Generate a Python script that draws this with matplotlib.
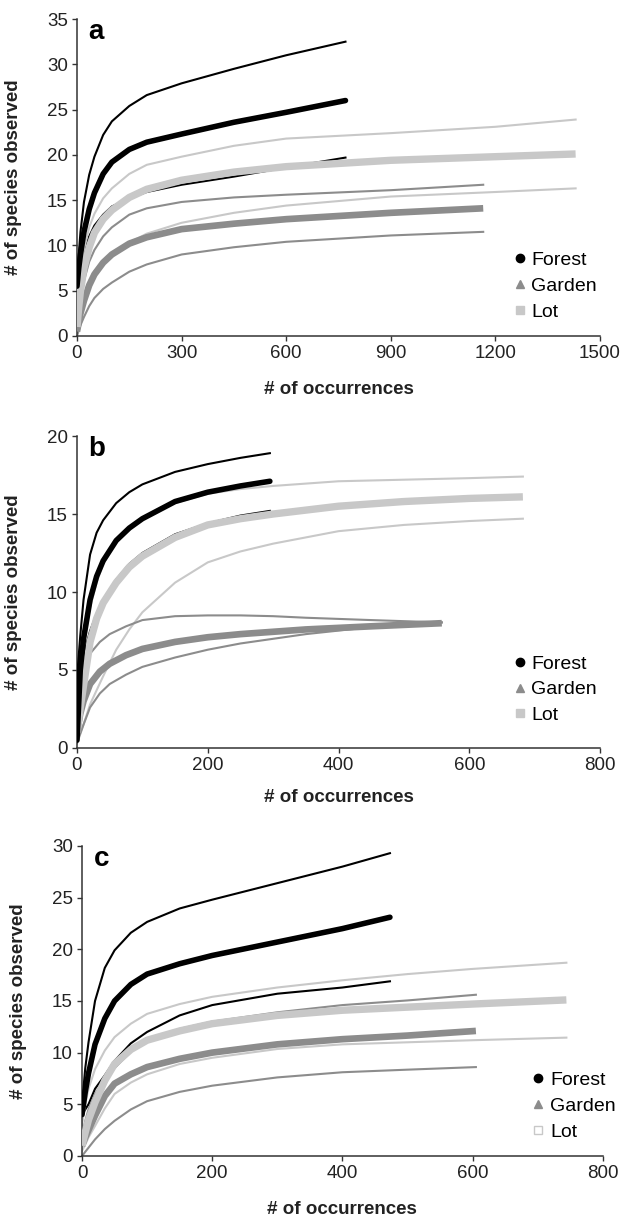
import matplotlib
matplotlib.use("Agg")
import matplotlib.pyplot as plt
from matplotlib.lines import Line2D

plt.rcParams['font.family'] = ['Liberation Sans', 'DejaVu Sans']

# ---------------- Panel a ----------------
a_forest_x = [0, 5, 10, 20, 35, 50, 75, 100, 150, 200, 300, 450, 600, 770]
a_forest_up = [5.5, 9, 11.5, 14.8, 17.8, 19.8, 22.2, 23.7, 25.4, 26.6, 27.9, 29.5, 31, 32.5]
a_forest_mean = [5.5, 7.5, 9, 11.5, 14, 15.8, 17.9, 19.2, 20.6, 21.4, 22.3, 23.6, 24.7, 26.0]
a_forest_low = [5, 6.3, 7.5, 9.2, 11, 12.2, 13.4, 14.3, 15.2, 15.9, 16.7, 17.6, 18.6, 19.7]

a_lot_x = [0, 5, 10, 20, 35, 50, 75, 100, 150, 200, 300, 450, 600, 900, 1200, 1430]
a_lot_up = [3, 5.2, 7, 9.6, 12, 13.5, 15.2, 16.3, 17.9, 18.9, 19.8, 21, 21.8, 22.4, 23.1, 23.9]
a_lot_mean = [1, 3.2, 5, 7.5, 9.8, 11.4, 12.9, 13.9, 15.3, 16.2, 17.2, 18.1, 18.7, 19.4, 19.8, 20.1]
a_lot_low = [0.5, 1.5, 2.5, 4.2, 6, 7.2, 8.3, 9, 10.3, 11.3, 12.5, 13.6, 14.4, 15.4, 15.9, 16.3]

a_garden_x = [0, 5, 10, 20, 35, 50, 75, 100, 150, 200, 300, 450, 600, 900, 1165]
a_garden_up = [1, 2.6, 4, 6.1, 8.2, 9.5, 11, 12, 13.4, 14.1, 14.8, 15.3, 15.6, 16.1, 16.7]
a_garden_mean = [0.5, 1.5, 2.5, 3.9, 5.6, 6.8, 8.1, 9, 10.2, 10.9, 11.8, 12.4, 12.9, 13.6, 14.1]
a_garden_low = [0, 0.6, 1.2, 2.1, 3.3, 4.2, 5.2, 5.9, 7.1, 7.9, 9, 9.8, 10.4, 11.1, 11.5]

# ---------------- Panel b ----------------
b_forest_x = [0, 5, 10, 20, 30, 40, 60, 80, 100, 150, 200, 250, 295]
b_forest_up = [4.5, 7.2, 9.5, 12.4, 13.8, 14.6, 15.7, 16.4, 16.9, 17.7, 18.2, 18.6, 18.9]
b_forest_mean = [0.5, 5, 7, 9.5, 11, 12, 13.3, 14.1, 14.7, 15.8, 16.4, 16.8, 17.1]
b_forest_low = [4, 5, 6, 7.5, 8.6, 9.5, 10.8, 11.8, 12.5, 13.7, 14.4, 14.9, 15.2]

b_lot_x = [0, 5, 10, 20, 30, 40, 60, 80, 100, 150, 200, 250, 300, 400, 500, 600, 682]
b_lot_up = [2, 4.5, 6.5, 9, 10.6, 11.8, 13.2, 14.1, 14.7, 15.7, 16.3, 16.6, 16.8, 17.1, 17.2, 17.3, 17.4]
b_lot_mean = [1, 2.6, 4, 6.8, 8.3, 9.3, 10.6, 11.6, 12.3, 13.5, 14.3, 14.7, 15.0, 15.5, 15.8, 16.0, 16.1]
b_lot_low = [0.5, 1, 1.5, 2.8, 3.7, 4.6, 6.3, 7.6, 8.7, 10.6, 11.9, 12.6, 13.1, 13.9, 14.3, 14.55, 14.7]

b_garden_x = [0, 5, 10, 20, 35, 50, 75, 100, 150, 200, 250, 300, 350, 450, 558]
b_garden_up = [1.5, 4.2, 5.3, 6.05, 6.8, 7.3, 7.8, 8.2, 8.45, 8.5, 8.5, 8.45, 8.35, 8.2, 8.05]
b_garden_mean = [1, 2.2, 3, 4.1, 4.9, 5.4, 5.95, 6.35, 6.8, 7.1, 7.3, 7.45, 7.6, 7.8, 8.0]
b_garden_low = [0.3, 0.9, 1.5, 2.6, 3.5, 4.1, 4.7, 5.2, 5.8, 6.3, 6.7, 7.0, 7.3, 7.75, 8.05]

# ---------------- Panel c ----------------
c_forest_x = [0, 5, 10, 20, 35, 50, 75, 100, 150, 200, 300, 400, 473]
c_forest_up = [5, 8.5, 11, 15, 18.2, 19.9, 21.6, 22.65, 23.95, 24.8, 26.4, 28.0, 29.3]
c_forest_mean = [4, 6.2, 8, 10.8, 13.3, 15.0, 16.6, 17.6, 18.6, 19.4, 20.7, 22.0, 23.1]
c_forest_low = [4, 4.5, 5, 6.5, 7.8, 9.2, 10.9, 12.0, 13.6, 14.6, 15.7, 16.3, 16.9]

c_lot_x = [0, 5, 10, 20, 35, 50, 75, 100, 150, 200, 300, 400, 500, 600, 744]
c_lot_up = [3, 5, 6.5, 8.4, 10.2, 11.5, 12.8, 13.75, 14.7, 15.4, 16.3, 17.0, 17.6, 18.1, 18.7]
c_lot_mean = [1, 2.3, 3.5, 5.2, 7.3, 8.9, 10.3, 11.2, 12.1, 12.8, 13.6, 14.1, 14.4, 14.7, 15.1]
c_lot_low = [0.5, 1.1, 1.8, 2.9, 4.6, 6.0, 7.1, 7.9, 8.9, 9.5, 10.35, 10.8, 11.0, 11.2, 11.45]

c_garden_x = [0, 5, 10, 20, 35, 50, 75, 100, 150, 200, 300, 400, 500, 605]
c_garden_up = [2, 3.4, 4.5, 6, 7.5, 8.5, 10.1, 11.3, 12.3, 13.0, 13.9, 14.6, 15.05, 15.6]
c_garden_mean = [1, 1.8, 2.5, 3.9, 5.8, 7.0, 7.9, 8.6, 9.4, 10.0, 10.8, 11.3, 11.65, 12.1]
c_garden_low = [0, 0.4, 0.8, 1.6, 2.6, 3.4, 4.5, 5.3, 6.2, 6.8, 7.6, 8.1, 8.35, 8.6]

habitats = ["Forest", "Garden", "Lot"]
panel_letters = ["a", "b", "c"]
a_xticks = [0, 300, 600, 900, 1200, 1500]
a_yticks = [0, 5, 10, 15, 20, 25, 30, 35]
b_xticks = [0, 200, 400, 600, 800]
b_yticks = [0, 5, 10, 15, 20]
c_xticks = [0, 200, 400, 600, 800]
c_yticks = [0, 5, 10, 15, 20, 25, 30]

FOREST = "#000000"
GARDEN = "#8c8c8c"
LOT = "#c8c8c8"
THIN = 1.5

fig = plt.figure(figsize=(6.26, 12.2), dpi=100)

panels = [
    dict(rect=[0.123, 0.7246, 0.8355, 0.2598], xlim=1500, ylim=35,
         xt=a_xticks, yt=a_yticks,
         forest=(a_forest_x, a_forest_up, a_forest_mean, a_forest_low),
         garden=(a_garden_x, a_garden_up, a_garden_mean, a_garden_low),
         lot=(a_lot_x, a_lot_up, a_lot_mean, a_lot_low),
         leg=(0.835, 0.266), xlab_y=-0.17, open_lot=False),
    dict(rect=[0.123, 0.3869, 0.8355, 0.2557], xlim=800, ylim=20,
         xt=b_xticks, yt=b_yticks,
         forest=(b_forest_x, b_forest_up, b_forest_mean, b_forest_low),
         garden=(b_garden_x, b_garden_up, b_garden_mean, b_garden_low),
         lot=(b_lot_x, b_lot_up, b_lot_mean, b_lot_low),
         leg=(0.835, 0.298), xlab_y=-0.16, open_lot=False),
    dict(rect=[0.131, 0.0525, 0.832, 0.2541], xlim=800, ylim=30,
         xt=c_xticks, yt=c_yticks,
         forest=(c_forest_x, c_forest_up, c_forest_mean, c_forest_low),
         garden=(c_garden_x, c_garden_up, c_garden_mean, c_garden_low),
         lot=(c_lot_x, c_lot_up, c_lot_mean, c_lot_low),
         leg=(0.865, 0.272), xlab_y=-0.172, open_lot=True),
]

kw = dict(solid_joinstyle='round')
for i, p in enumerate(panels):
    ax = fig.add_axes(p["rect"])
    fx, fup, fmean, flow = p["forest"]
    gx, gup, gmean, glow = p["garden"]
    lx, lup, lmean, llow = p["lot"]

    ax.plot(fx, flow, color=FOREST, lw=THIN, zorder=2, **kw)
    ax.plot(lx, llow, color=LOT, lw=THIN, zorder=2, **kw)
    ax.plot(gx, gup, color=GARDEN, lw=THIN, zorder=2, **kw)
    ax.plot(gx, glow, color=GARDEN, lw=THIN, zorder=2, **kw)
    ax.plot(lx, lup, color=LOT, lw=THIN, zorder=2, **kw)
    ax.plot(gx, gmean, color=GARDEN, lw=4.8, zorder=3, solid_capstyle='butt', **kw)
    ax.plot(lx, lmean, color=LOT, lw=5.3, zorder=3, solid_capstyle='butt', **kw)
    ax.plot(fx, fup, color=FOREST, lw=THIN, zorder=4, **kw)
    ax.plot(fx, fmean, color=FOREST, lw=4.0, zorder=4, solid_capstyle='round', **kw)

    ax.set_xlim(0, p["xlim"])
    ax.set_ylim(0, p["ylim"])
    ax.set_xticks(p["xt"])
    ax.set_yticks(p["yt"])
    for s in ["top", "right"]:
        ax.spines[s].set_visible(False)
    for s in ["left", "bottom"]:
        ax.spines[s].set_color("#333333")
        ax.spines[s].set_linewidth(1.1)
    ax.tick_params(direction='out', length=3.5, width=1.0, color="#333333",
                   labelsize=13.5, labelcolor="#222222", pad=3)

    ax.set_ylabel("# of species observed", fontsize=13.5, fontweight='bold',
                  color="#222222")
    ax.yaxis.set_label_coords(-0.105, 0.5)
    ax.set_xlabel("# of occurrences", fontsize=13.5, fontweight='bold',
                  color="#222222", va='center')
    ax.xaxis.set_label_coords(0.5, p["xlab_y"])

    ax.text(0.022, 1.0, panel_letters[i], transform=ax.transAxes,
            fontsize=20, fontweight='bold', va='top', ha='left')

    lot_handle = Line2D([], [], ls='none', marker='s', ms=6,
                        mfc='white' if p["open_lot"] else LOT, mec=LOT)
    handles = [Line2D([], [], ls='none', marker='o', ms=6, color=FOREST),
               Line2D([], [], ls='none', marker='^', ms=6, color=GARDEN),
               lot_handle]
    ax.legend(handles, habitats, loc='upper left',
              bbox_to_anchor=p["leg"],
              frameon=False, fontsize=14, handlelength=0.6,
              handletextpad=0.3, labelspacing=0.42, borderpad=0,
              borderaxespad=0)

fig.savefig("out.png", dpi=100)
